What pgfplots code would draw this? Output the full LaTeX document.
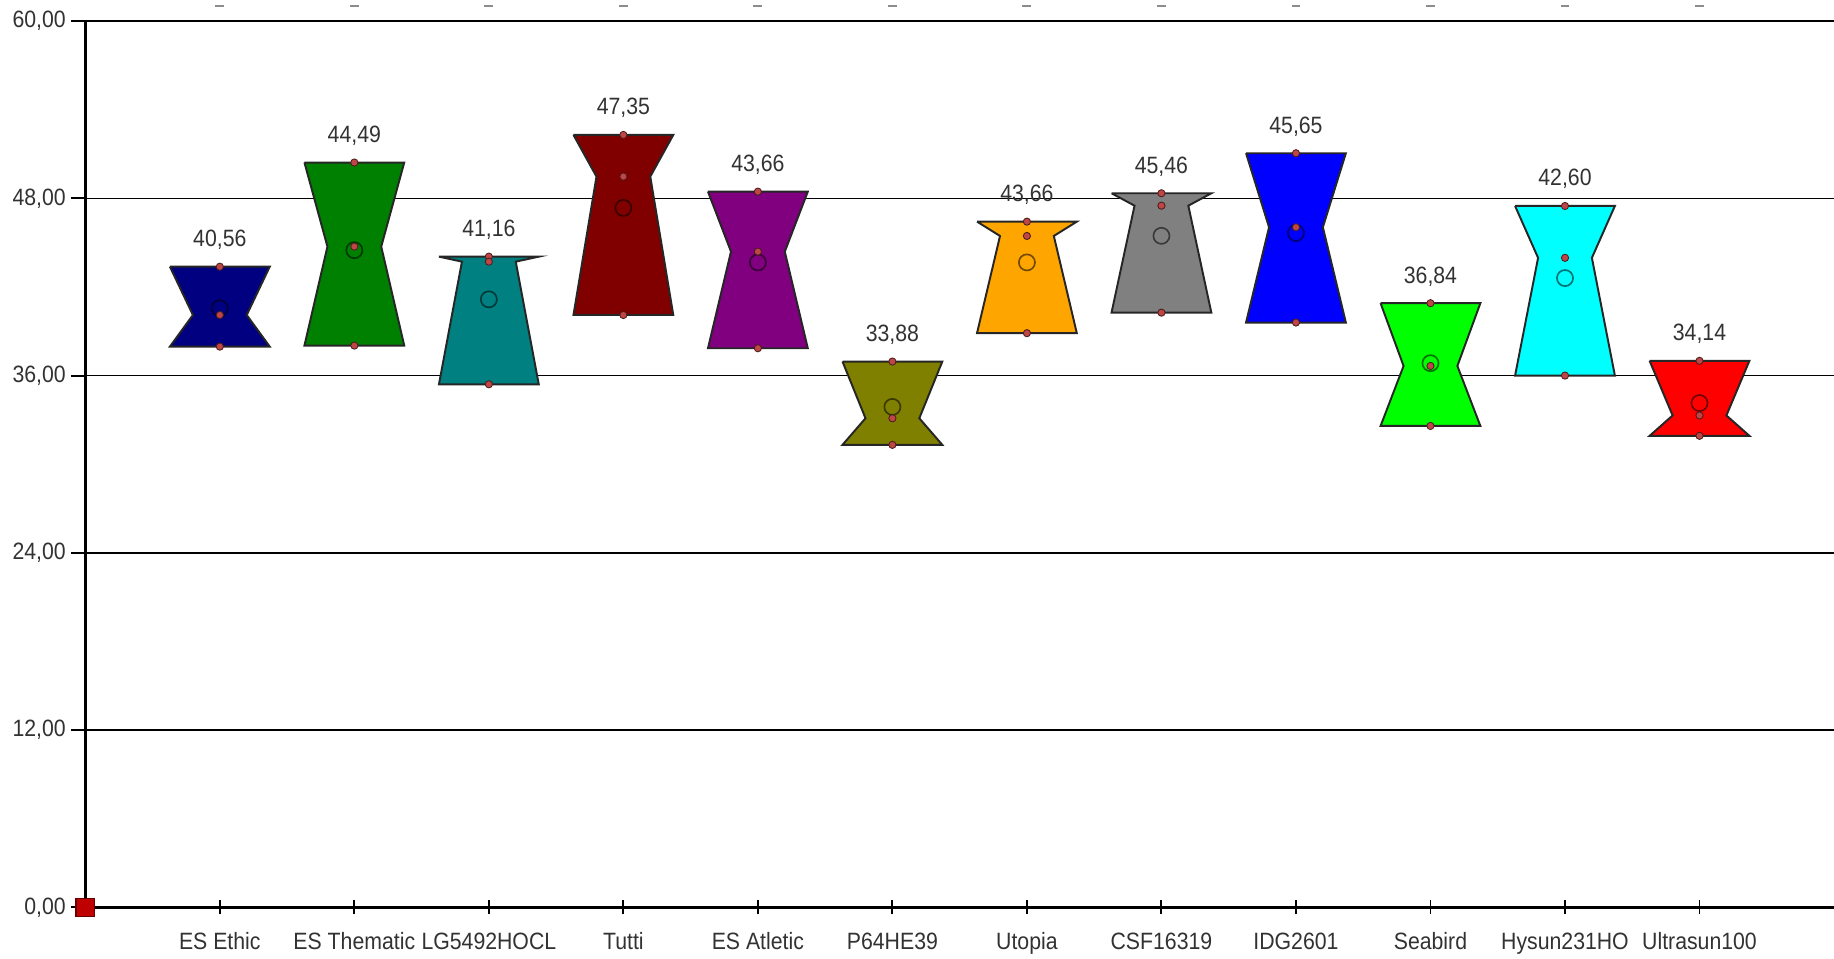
\documentclass[border=0pt]{standalone}
\usepackage{fontspec}
\setmainfont{Liberation Sans}[FakeStretch=0.9]
\usepackage{pgfplots}
\pgfplotsset{compat=1.18}
\definecolor{cNavy}{RGB}{0,0,128}
\definecolor{cGreen}{RGB}{0,128,0}
\definecolor{cTeal}{RGB}{0,128,128}
\definecolor{cMaroon}{RGB}{128,0,0}
\definecolor{cPurple}{RGB}{128,0,128}
\definecolor{cOlive}{RGB}{128,128,0}
\definecolor{cOrange}{RGB}{255,165,0}
\definecolor{cGray}{RGB}{128,128,128}
\definecolor{cBlue}{RGB}{0,0,255}
\definecolor{cLime}{RGB}{0,255,0}
\definecolor{cCyan}{RGB}{0,255,255}
\definecolor{cRed}{RGB}{255,0,0}
\definecolor{dotred}{RGB}{190,70,70}
\definecolor{txt}{RGB}{50,50,50}
% #1 index, #2 box top, #3 box bottom, #4 median (notch waist), #5 mean, #6 colour, #7 label
\newcommand{\nbox}[7]{%
  \pgfmathsetmacro\xa{#1-0.371}\pgfmathsetmacro\xb{#1+0.371}%
  \pgfmathsetmacro\xc{#1-0.2}\pgfmathsetmacro\xd{#1+0.2}%
  \edef\doplot{\noexpand\addplot[fill=#6, draw=black!85, line width=0.7pt, line join=miter]
    coordinates {(\xa,#2) (\xb,#2) (\xd,#4) (\xb,#3) (\xa,#3) (\xc,#4) (\xa,#2)};}%
  \doplot
  \addplot[only marks, mark=o, mark size=2.9pt, draw=#6!45!black, line width=0.6pt] coordinates {(#1,#5)};
  \addplot[only marks, mark=*, mark size=1.3pt, fill=dotred, draw=black!60!dotred, line width=0.3pt] coordinates {(#1,#2) (#1,#3) (#1,#4)};
  \node[anchor=base, text=txt, font=\fontsize{8.5}{9}\selectfont, yshift=7.2pt] at (axis cs:#1,#2) {#7};
}
\begin{document}
\begin{tikzpicture}
\useasboundingbox (-30.7pt,-18.54pt) rectangle (629.3pt,326.56pt);
\begin{axis}[
  at={(0,0)}, anchor=south west,
  scale only axis, width=629.3pt, height=319pt,
  xmin=0, xmax=13, ymin=0, ymax=60,
  axis x line=bottom, axis y line=left,
  axis line style={line width=1.3pt, -},
  xtick={1,2,3,4,5,6,7,8,9,10,11,12},
  xticklabels={ES Ethic, ES Thematic, LG5492HOCL, Tutti, ES Atletic, P64HE39, Utopia, CSF16319, IDG2601, Seabird, Hysun231HO, Ultrasun100},
  ytick={0,12,24,36,48,60},
  yticklabel={\pgfmathprintnumber[fixed, fixed zerofill, precision=2, use comma]{\tick}},
  /pgf/number format/assume math mode=true,
  ymajorgrids, grid style={black, line width=0.5pt},
  xtick style={black, line width=0.7pt}, ytick style={black, line width=0.7pt},
  major tick length=5pt,
  x tick label style={font=\fontsize{8.5}{9}\selectfont, text=txt, yshift=-3pt},
  y tick label style={font=\fontsize{8.5}{9}\selectfont, text=txt, xshift=1.5pt},
  xtick align=center, ytick align=outside,
  clip=false,
]
\addplot[only marks, mark=-, mark size=1.6pt, draw=black!45, line width=0.8pt] coordinates {(1,61) (2,61) (3,61) (4,61) (5,61) (6,61) (7,61) (8,61) (9,61) (10,61) (11,61) (12,61)};
\nbox{1}{43.37}{37.96}{40.10}{40.56}{cNavy}{40,56}
\nbox{2}{50.42}{38.03}{44.73}{44.49}{cGreen}{44,49}
\nbox{3}{44.05}{35.41}{43.71}{41.16}{cTeal}{41,16}
\nbox{4}{52.29}{40.10}{49.47}{47.35}{cMaroon}{47,35}
\nbox{5}{48.45}{37.85}{44.39}{43.66}{cPurple}{43,66}
\nbox{6}{36.95}{31.31}{33.11}{33.88}{cOlive}{33,88}
\nbox{7}{46.42}{38.87}{45.45}{43.66}{cOrange}{43,66}
\nbox{8}{48.34}{40.26}{47.50}{45.46}{cGray}{45,46}
\nbox{9}{51.05}{39.59}{46.04}{45.65}{cBlue}{45,65}
\nbox{10}{40.90}{32.59}{36.65}{36.84}{cLime}{36,84}
\nbox{11}{47.48}{36.00}{43.97}{42.60}{cCyan}{42,60}
\nbox{12}{37.00}{31.92}{33.30}{34.14}{cRed}{34,14}
\addplot[only marks, mark=square*, mark size=3.3pt, fill=red!75!black, draw=red!40!black, line width=0.5pt] coordinates {(0,0)};
\end{axis}
\end{tikzpicture}
\end{document}
